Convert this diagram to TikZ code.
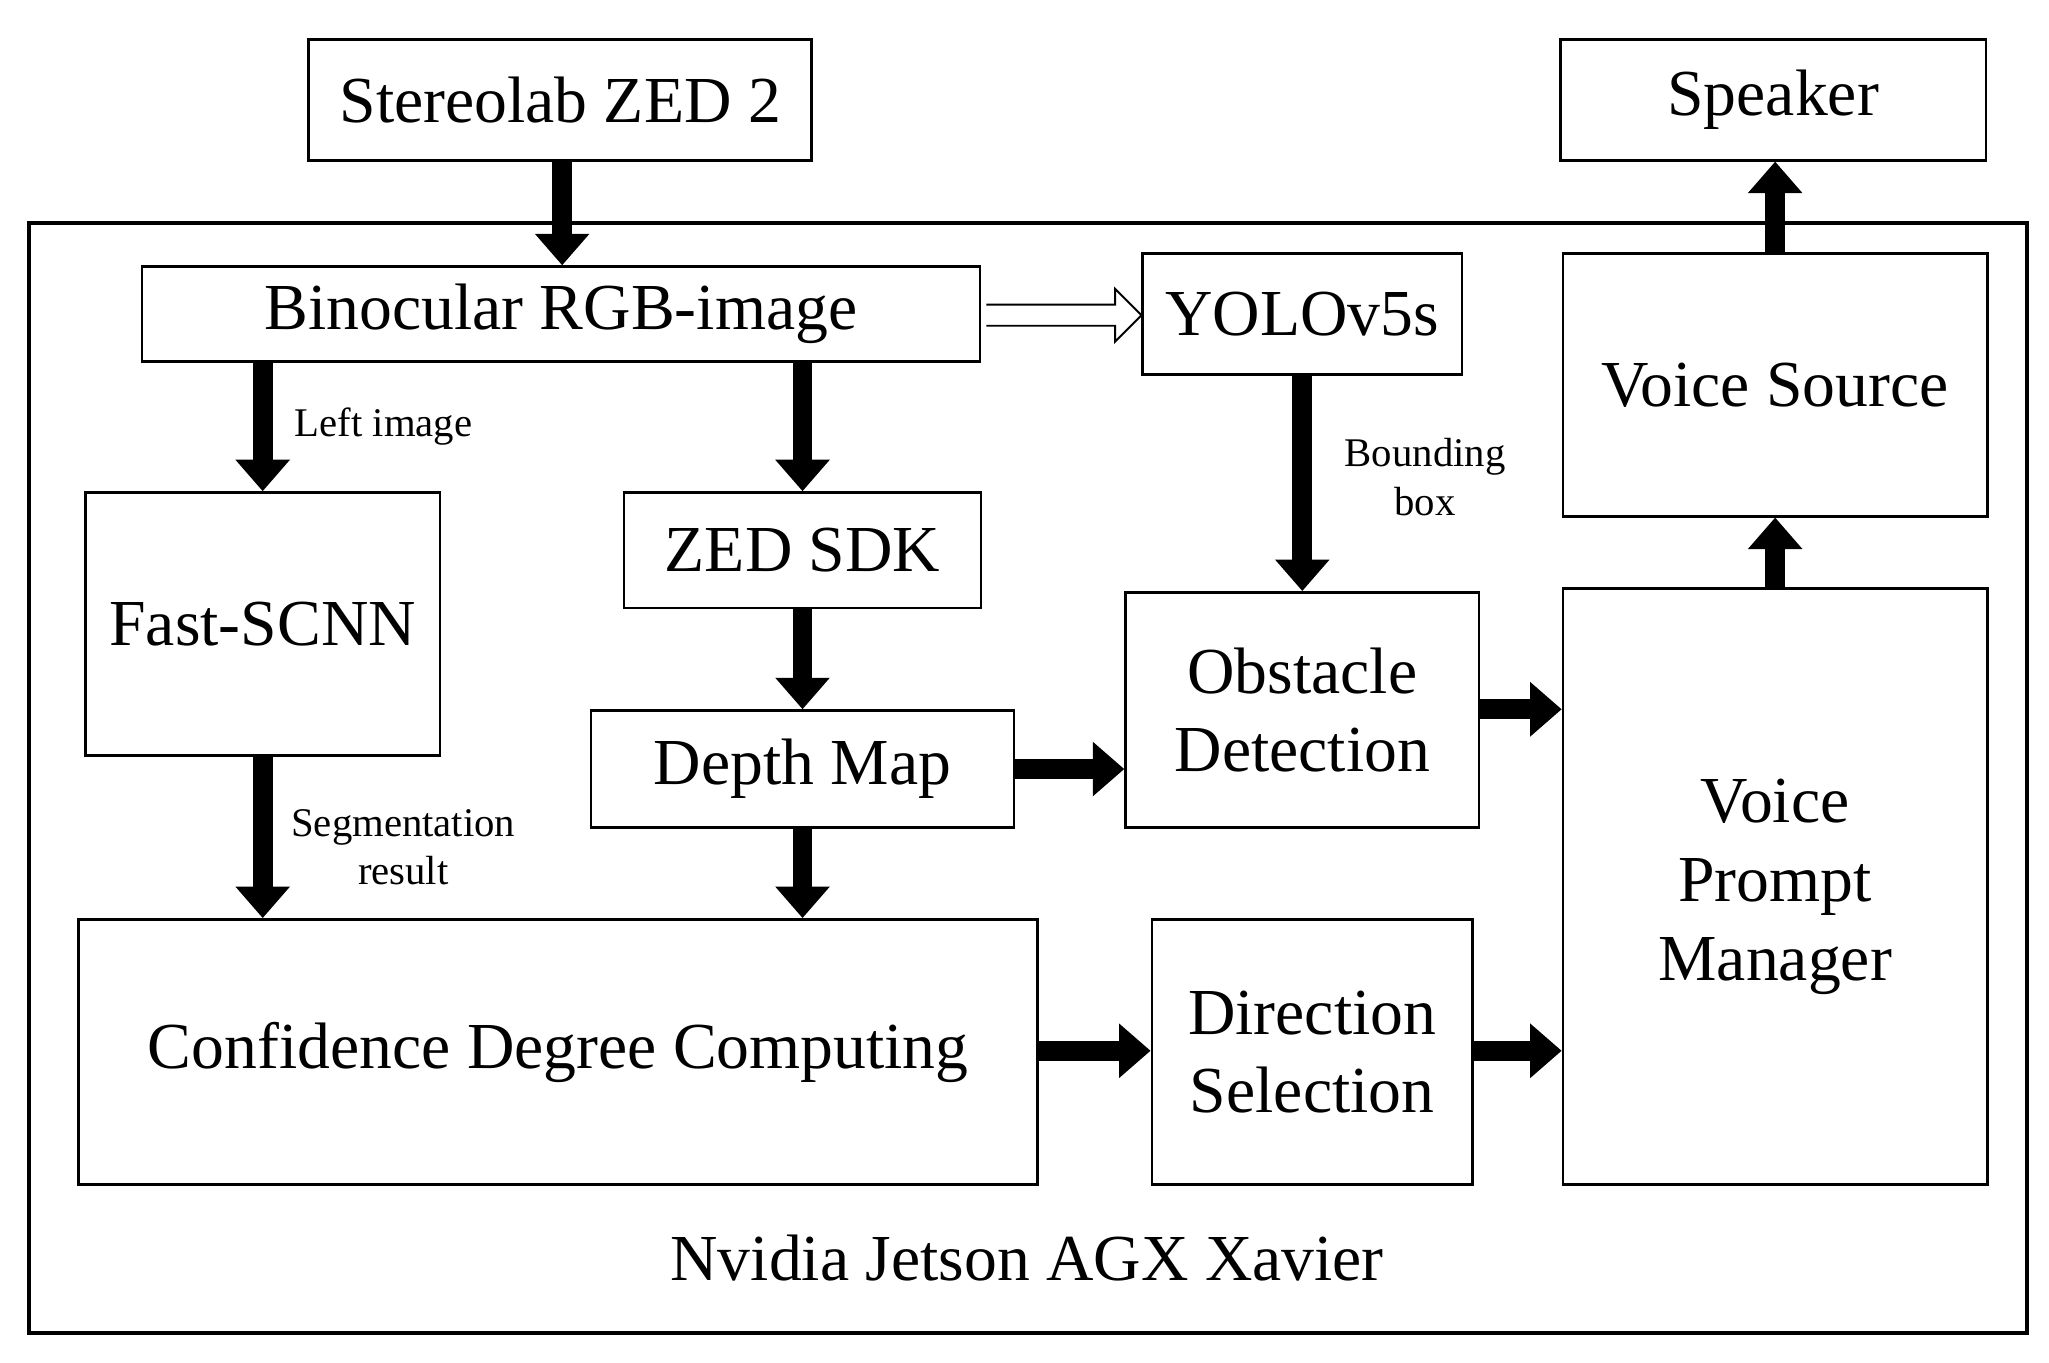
\documentclass[tikz,border=0pt]{standalone}
\usepackage{fontspec}
\setmainfont{Liberation Serif}
\usetikzlibrary{arrows.meta,calc}
\begin{document}
\begin{tikzpicture}[x=1pt,y=-1pt,
  box/.style={draw,line width=2pt,inner sep=0pt,align=center,font=\fontsize{50}{60}\selectfont},
  lbl/.style={font=\fontsize{31}{37}\selectfont,align=center,inner sep=0pt},
  blk/.style={line width=15pt,-{Triangle[length=24pt,width=40pt]}}]
\useasboundingbox (0,0) rectangle (1560,1037);
\newcommand{\bx}[6]{\node[box,minimum width={#4-#2},minimum height={#5-#3}] (#1) at ({(#2+#4)/2},{(#3+#5)/2}) {#6};}
\draw[line width=3pt] (22,170) rectangle (1543,1015);
\bx{stereo}{235}{30}{618}{122}{Stereolab ZED 2}
\bx{speaker}{1188}{30}{1512}{122}{Speaker}
\bx{bin}{108}{203}{746}{275}{Binocular RGB-image}
\bx{yolo}{870}{193}{1113}{285}{YOLOv5s}
\bx{vsrc}{1190}{193}{1513}{393}{Voice Source}
\bx{fast}{65}{375}{335}{575}{Fast-SCNN}
\bx{zed}{475}{375}{747}{463}{ZED SDK}
\bx{depth}{450}{541}{772}{630}{Depth Map}
\bx{obst}{857}{451}{1126}{630}{Obstacle\\Detection}
\bx{vpm}{1190}{448}{1513}{902}{Voice\\Prompt\\Manager}
\bx{conf}{60}{700}{790}{902}{Confidence Degree Computing}
\bx{dir}{877}{700}{1121}{902}{Direction\\Selection}
\node[font=\fontsize{50}{60}\selectfont] (nv) at (782,958) {Nvidia Jetson AGX Xavier};
\node[lbl] (l1) at (292,325) {Left image};
\node[lbl] (l2) at (1085,363) {Bounding\\box};
\node[lbl] (l3) at (307,645) {Segmentation\\result};
\coordinate (sx) at (428,0);
\draw[blk] (stereo.south -| sx) -- (bin.north -| sx);
\draw[blk] (bin.south -| fast) -- (fast.north);
\draw[blk] (bin.south -| zed) -- (zed.north);
\draw[blk] (zed.south -| depth) -- (depth.north);
\draw[blk] (depth.south) -- (depth.south |- conf.north);
\draw[blk] (fast.south) -- (fast.south |- conf.north);
\draw[blk] (yolo.south -| obst) -- (obst.north);
\draw[blk] (depth.east) -- (depth.east -| obst.west);
\coordinate (oy) at (0,540);
\draw[blk] (obst.east |- oy) -- (vpm.west |- oy);
\coordinate (cy) at (0,800);
\draw[blk] (conf.east |- cy) -- (dir.west |- cy);
\draw[blk] (dir.east |- cy) -- (vpm.west |- cy);
\draw[blk] (vpm.north -| vsrc) -- (vsrc.south);
\draw[blk] (vsrc.north) -- (vsrc.north |- speaker.south);
\coordinate (a) at (bin.east |- 0,240);
\coordinate (b) at (yolo.west |- 0,240);
\draw[line width=1.5pt,fill=white] ($(a)+(4,-8)$) -- ($(b)+(-20,-8)$) -- ($(b)+(-20,-20)$) -- (b) -- ($(b)+(-20,20)$) -- ($(b)+(-20,8)$) -- ($(a)+(4,8)$);
\end{tikzpicture}
\end{document}
